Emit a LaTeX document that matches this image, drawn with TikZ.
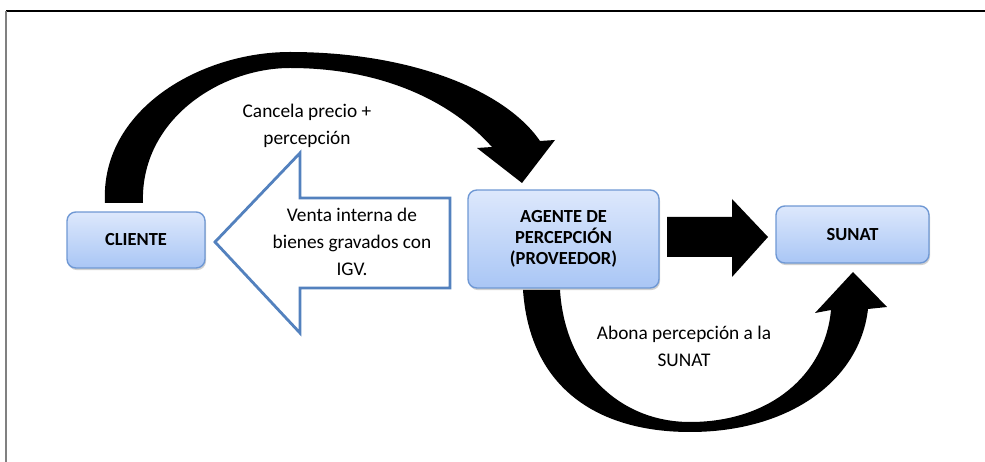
\documentclass[tikz,border=0pt]{standalone}
\usepackage{fontspec}
\setmainfont{Carlito}
\usetikzlibrary{shadows}

\definecolor{boxtop}{HTML}{DDE8FC}
\definecolor{boxbottom}{HTML}{A9C6F5}
\definecolor{boxline}{HTML}{6F98D4}
\definecolor{arrowline}{HTML}{5381BE}

\begin{document}
\begin{tikzpicture}[
        x = 0.02cm,
        y = -0.02cm,
        actor/.style = {draw=boxline, line width=0.8pt, rounded corners=5pt,
            top color=boxtop, bottom color=boxbottom, align=center,
            font=\bfseries\fontsize{10.5}{12}\selectfont,
            drop shadow={shadow xshift=0.6pt, shadow yshift=-1.2pt, opacity=0.3, fill=black!60}},
        note/.style  = {align=center, font=\fontsize{11}{15.3}\selectfont},
        %hollow arrow
        hollow/.style = {draw=arrowline, line width=1.6pt, line join=miter, fill=white},
      ]
    \useasboundingbox (0,0) rectangle (985,462);
    \draw[black, line width=0.9pt] (6,11) -- (985,11);
    \draw[gray, line width=1.2pt] (6,11) -- (6,462);

    \node[actor, minimum width=2.76cm, minimum height=1.12cm] (cliente) at (136,240) {CLIENTE};
    \node[actor, minimum width=3.82cm, minimum height=1.96cm] (agente) at (563.5,239) {AGENTE DE\\PERCEPCIÓN\\(PROVEEDOR)};
    \node[actor, minimum width=3.06cm, minimum height=1.14cm] (sunat) at (852.5,234.5) {SUNAT};

    % venta
    \draw[hollow] (215,242) -- (300,153) -- (300,198) -- (450,198) -- (450,288)
        -- (300,288) -- (300,333) -- cycle;
    \node[note] (venta) at (352,242) {Venta interna de\\bienes gravados con\\IGV.};

    % pago al agente
    \fill (105,203) .. controls (100,110) and (200,52) .. (290,52)
        .. controls (410,52) and (505,90) .. (540,141) -- (555,140) -- (522,183)
        -- (477,148) -- (492,147) .. controls (450,100) and (380,68) .. (290,68)
        .. controls (220,68) and (140,120) .. (143,203) -- cycle;
    \node[note] (cancela) at (307,126) {Cancela precio +\\percepción};

    \fill (667,217) -- (732,217) -- (732,199) -- (768,237) -- (732,277) -- (732,257)
        -- (667,257) -- cycle;

    % abono a la SUNAT
    \fill (523,290) .. controls (530,390) and (600,432) .. (690,432)
        .. controls (790,432) and (860,380) .. (868,309) -- (887,307) -- (853,272)
        -- (815,313) -- (831,310) .. controls (825,375) and (770,422) .. (690,422)
        .. controls (620,422) and (565,370) .. (560,290) -- cycle;
    \node[note] (abona) at (684,346) {Abona percepción a la\\SUNAT};
\end{tikzpicture}
\end{document}
